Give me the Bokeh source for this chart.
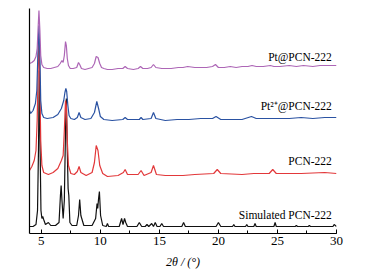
from bokeh.plotting import figure
from bokeh.models import Range1d, SingleIntervalTicker, FixedTicker, Label
from bokeh.embed import file_html
from bokeh.resources import INLINE

# ---- data (2θ in degrees, intensity in arbitrary units, offset per trace) ----
x_pt = [4.0,4.2,4.4,4.55,4.65,4.72,4.8,4.88,4.95,5.05,
        5.2,5.5,5.8,6.1,6.4,6.6,6.75,6.85,6.95,7.05,
        7.12,7.2,7.3,7.45,7.7,8.0,8.15,8.25,8.4,8.7,
        9.0,9.3,9.5,9.65,9.8,9.95,10.1,10.3,10.6,11.0,
        11.5,11.9,12.1,12.3,12.8,13.2,13.4,13.6,14.0,14.3,
        14.5,14.7,15.2,16.0,16.6,17.0,17.4,18.0,18.6,19.0,
        19.5,19.75,20.0,20.5,21.0,21.5,22.0,22.5,22.85,23.2,
        23.8,24.4,24.7,25.2,26.0,26.6,27.2,28.0,28.6,29.2,
        30.0]
i_pt = [170,171,173,177,185,203,223,203,178,169,
        166,165,165,166,167,170,173,171,178,192,
        188,175,168,165,165,166,171,169,165,164,
        165,166,170,177,176,170,166,165,164,164,
        165,165,167,165,164,165,167,165,165,166,
        169,166,165,165,166,166,167,166,166,166,
        167,169,166,166,167,166,167,167,168,167,
        167,168,167,167,168,167,168,167,168,168,
        168]

x_pt2 = [4.0,4.1,4.3,4.5,4.62,4.72,4.8,4.88,4.95,5.05,
         5.2,5.5,6.0,6.4,6.7,6.9,7.0,7.08,7.15,7.25,
         7.35,7.5,7.8,8.05,8.2,8.35,8.7,9.2,9.5,9.7,
         9.85,10.0,10.3,11.0,11.9,12.1,12.3,13.3,13.45,13.6,
         14.3,14.5,14.7,15.5,16.5,17.5,18.5,19.5,19.8,20.2,
         21.0,22.0,22.8,23.2,24.0,25.0,26.0,27.0,28.0,29.0,
         30.0]
i_pt2 = [123,120,123,130,143,183,208,178,133,120,
         116,115,116,119,125,133,141,145,142,128,
         118,115,114,116,121,116,114,115,121,132,
         125,117,114,113,114,116,114,114,116,114,
         115,121,115,113,114,114,115,115,117,114,
         114,114,117,115,115,115,115,116,115,116,
         116]

x_pcn = [4.0,4.2,4.4,4.55,4.65,4.75,4.8,4.86,4.95,5.05,
         5.2,5.6,6.0,6.4,6.7,6.85,6.95,7.05,7.12,7.2,
         7.3,7.5,7.8,8.05,8.2,8.35,8.8,9.3,9.5,9.65,
         9.8,9.95,10.2,10.6,11.5,11.95,12.1,12.3,13.2,13.45,
         13.7,14.3,14.5,14.75,15.5,17.0,18.0,19.6,19.9,20.2,
         22.0,23.0,24.3,24.6,24.9,27.0,29.0,30.0]
i_pcn = [63,67,73,83,113,173,193,163,93,68,
         61,59,61,65,73,78,103,133,128,93,
         68,60,59,62,67,61,58,61,71,88,
         83,68,60,57,58,61,64,59,59,63,
         58,61,68,59,58,58,59,60,64,60,
         59,60,60,64,60,60,61,60]

x_sim = [4.0,4.3,4.55,4.68,4.76,4.83,4.9,4.97,5.05,5.12,
         5.2,5.35,5.6,5.8,6.2,6.5,6.62,6.68,6.75,6.85,
         6.95,7.05,7.12,7.2,7.27,7.33,7.42,7.6,8.0,8.15,
         8.25,8.35,8.6,9.3,9.6,9.72,9.78,9.85,9.92,10.02,
         10.2,10.5,10.6,10.7,11.6,11.8,11.92,12.05,12.15,12.3,
         13.1,13.3,13.5,13.8,13.95,14.1,14.35,14.5,14.65,14.8,
         15.05,15.2,15.35,16.9,17.05,17.2,19.8,20.0,20.2,21.2,
         21.3,21.4,22.3,22.4,22.5,23.0,23.1,23.2,24.7,24.8,
         24.9,26.5,26.6,26.7,27.6,27.7,27.8,29.7,29.8,30.0]
i_sim = [7,7,9,23,83,163,83,23,15,17,
         14,9,11,8,8,11,38,48,33,15,
         33,103,135,83,45,38,11,8,8,18,
         34,18,8,8,15,30,25,35,42,18,
         8,7,10,7,7,15,9,15,11,7,
         7,11,7,7,9,7,10,7,11,7,
         7,10,7,7,11,7,7,11,7,7,
         9,7,7,9,7,7,10,7,7,11,
         7,7,8,7,7,8,7,7,9,7]

names = ["Pt@PCN-222", "Pt\u00b2\u207a@PCN-222", "PCN-222", "Simulated PCN-222"]
label_y = [177, 128, 73, 19]
colors = ["#ad66b6", "#2a52a2", "#e2383a", "#111111"]
x_ticks_interval = 5
x_title = "2\u03b8 / (\u00b0)"

series = [(x_sim, i_sim, colors[3]), (x_pcn, i_pcn, colors[2]),
          (x_pt2, i_pt2, colors[1]), (x_pt, i_pt, colors[0])]

FONT = "Liberation Serif"

p = figure(frame_width=307, frame_height=225, output_backend="svg", toolbar_location=None,
           x_range=Range1d(4, 30), y_range=Range1d(0, 225),
           min_border_left=29, min_border_right=36, min_border_top=8, min_border_bottom=38)
p.outline_line_color = None
p.grid.visible = False
p.background_fill_color = "white"

for xs, ys, c in series:
    p.line(xs, ys, line_color=c, line_width=1.2)

# bottom axis
xa = p.xaxis[0]
xa.ticker = SingleIntervalTicker(interval=x_ticks_interval, num_minor_ticks=2)
xa.major_tick_in = 4
xa.major_tick_out = 0
xa.minor_tick_in = 3
xa.minor_tick_out = 0
xa.axis_line_color = "black"
xa.axis_line_width = 1.2
xa.major_tick_line_color = "black"
xa.minor_tick_line_color = "black"
xa.major_label_text_font = FONT
xa.major_label_text_font_size = "13px"
xa.major_label_text_color = "black"
xa.major_label_standoff = 3
xa.axis_label = x_title
xa.axis_label_text_font = FONT
xa.axis_label_text_font_size = "12px"
xa.axis_label_text_font_style = "italic"
xa.axis_label_text_color = "black"
xa.axis_label_standoff = 7

# left axis: line only
ya = p.yaxis[0]
ya.ticker = FixedTicker(ticks=[])
ya.major_label_text_font_size = "0px"
ya.major_tick_line_color = None
ya.minor_tick_line_color = None
ya.axis_line_color = "black"
ya.axis_line_width = 1.2

for n, yy in zip(names, label_y):
    p.add_layout(Label(x=29.6, y=yy, text=n, text_align="right", text_baseline="middle",
                       text_font=FONT, text_font_size="11.5px", text_color="black"))

open("out.html", "w").write(file_html(p, INLINE))
